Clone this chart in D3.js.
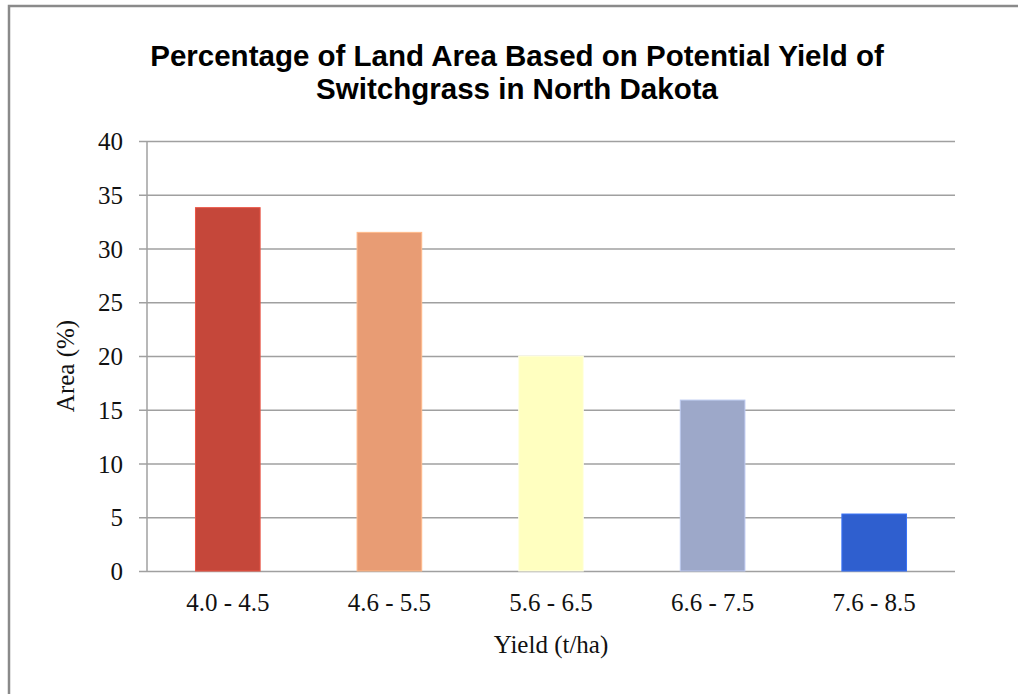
<!DOCTYPE html>
<html>
<head>
<meta charset="utf-8">
<script src="https://cdn.jsdelivr.net/npm/d3@7"></script>
<style>
  body { margin: 0; background: #fff; }
  .tick text { font-family: "Liberation Serif", "Times New Roman", serif; font-size: 25px; fill: #111; }
</style>
</head>
<body>
<div id="chart"></div>
<script>
// data
var categories = ["4.0 - 4.5", "4.6 - 5.5", "5.6 - 6.5", "6.6 - 7.5", "7.6 - 8.5"];
var areaValues = [33.8, 31.5, 20.0, 15.9, 5.3];
var barColors = ["#c5473a", "#e89c74", "#ffffc0", "#9da8c9", "#2f5fcf"];
var yTicks = [0, 5, 10, 15, 20, 25, 30, 35, 40];
var titleLines = ["Percentage of Land Area Based on Potential Yield of", "Switchgrass in North Dakota"];

var svgWidth = 1018;
var svgHeight = 694;

// plot area
var margin = { top: 141, right: 63, bottom: 123, left: 147 };
var width = svgWidth - margin.left - margin.right;
var height = svgHeight - margin.top - margin.bottom;

var svg = d3.select("#chart")
  .append("svg")
  .attr("width", svgWidth)
  .attr("height", svgHeight);

// outer frame (runs off the right and bottom edges)
svg.append("rect")
  .attr("x", 9)
  .attr("y", 6)
  .attr("width", 1040)
  .attr("height", 720)
  .attr("fill", "none")
  .attr("stroke", "#8a8a8a")
  .attr("stroke-width", 2.5);

// title, squeezed horizontally like a narrow bold face
var titleWidths = [734, 402];
titleLines.forEach(function(line, i) {
  var g = svg.append("g")
    .attr("transform", `translate(517, ${66 + i * 33})`);
  var t = g.append("text")
    .attr("text-anchor", "middle")
    .attr("font-family", "Liberation Sans, Arial, sans-serif")
    .attr("font-weight", "bold")
    .attr("font-size", "30px")
    .attr("fill", "#000")
    .text(line);
  var natural = t.node().getComputedTextLength();
  t.attr("transform", `scale(${titleWidths[i] / natural}, 1)`);
});

var chartGroup = svg.append("g")
  .attr("transform", `translate(${margin.left}, ${margin.top})`);

var xScale = d3.scaleBand()
  .domain(categories)
  .range([0, width])
  .paddingInner(0.6)
  .paddingOuter(0.3);

var yScale = d3.scaleLinear()
  .domain([0, 40])
  .range([height, 0]);

// gridlines + y tick labels (ticks stick out 8px left of the axis)
var leftAxis = d3.axisLeft(yScale)
  .tickValues(yTicks)
  .tickSize(-(width + 8))
  .tickPadding(16);

var yAxis = chartGroup.append("g")
  .attr("transform", "translate(-8, 0)")
  .call(leftAxis);

yAxis.select(".domain").remove();
yAxis.selectAll(".tick line")
  .attr("stroke", "#a0a0a0")
  .attr("stroke-width", 1.5);
yAxis.selectAll(".tick text")
  .attr("dy", "0.34em");

// vertical axis line
chartGroup.append("line")
  .attr("x1", 0)
  .attr("x2", 0)
  .attr("y1", 0)
  .attr("y2", height)
  .attr("stroke", "#a0a0a0")
  .attr("stroke-width", 1.5);

// bars
chartGroup.selectAll(".bar")
  .data(areaValues)
  .enter()
  .append("rect")
  .attr("class", "bar")
  .attr("x", (d, i) => xScale(categories[i]))
  .attr("y", d => yScale(d))
  .attr("width", xScale.bandwidth())
  .attr("height", d => height - yScale(d))
  .attr("fill", (d, i) => barColors[i])
  .attr("stroke", (d, i) => d3.color(barColors[i]).brighter(0.5))
  .attr("stroke-width", 1);

// x axis labels, no tick marks
var bottomAxis = d3.axisBottom(xScale)
  .tickSize(0)
  .tickPadding(22);

var xAxis = chartGroup.append("g")
  .attr("transform", `translate(0, ${height})`)
  .call(bottomAxis);

xAxis.select(".domain").remove();

// axis titles
chartGroup.append("text")
  .attr("x", width / 2)
  .attr("y", height + 82)
  .attr("text-anchor", "middle")
  .attr("font-family", "Liberation Serif, Times New Roman, serif")
  .attr("font-size", "25px")
  .attr("fill", "#111")
  .text("Yield (t/ha)");

chartGroup.append("text")
  .attr("transform", "rotate(-90)")
  .attr("x", -225)
  .attr("y", -73)
  .attr("text-anchor", "middle")
  .attr("font-family", "Liberation Serif, Times New Roman, serif")
  .attr("font-size", "25px")
  .attr("fill", "#111")
  .text("Area (%)");
</script>
</body>
</html>
